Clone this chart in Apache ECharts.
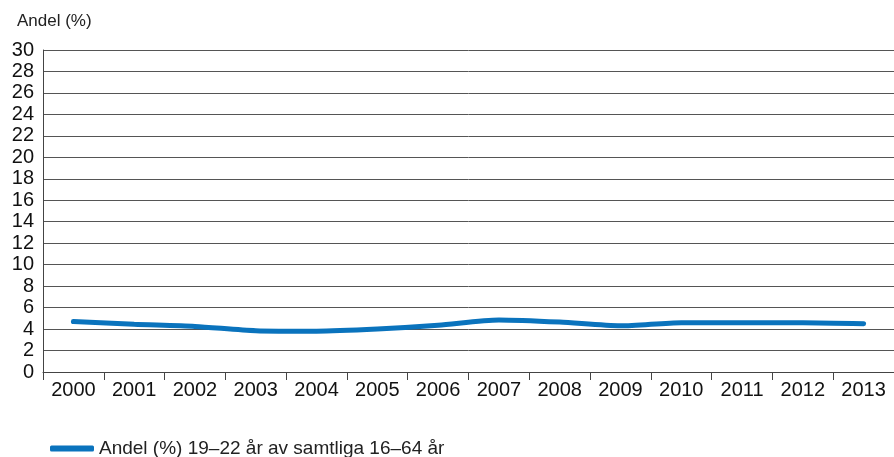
<!DOCTYPE html>
<html>
<head>
<meta charset="utf-8">
<script src="https://cdn.jsdelivr.net/npm/echarts@6/dist/echarts.min.js"></script>
<style>
html, body { margin: 0; padding: 0; background: #fff; }
#chart { width: 894px; height: 457px; }
</style>
</head>
<body>
<div id="chart"></div>
<script>
let years = ['2000', '2001', '2002', '2003', '2004', '2005', '2006', '2007', '2008', '2009', '2010', '2011', '2012', '2013'];
let share = [4.7, 4.45, 4.25, 3.85, 3.8, 4.0, 4.35, 4.85, 4.65, 4.3, 4.6, 4.6, 4.6, 4.5];
let seriesName = 'Andel (%) 19\u201322 år av samtliga 16\u201364 år';

let ShareChart = echarts.init(document.getElementById('chart'));

let share_chart = {
    animation: false,
    textStyle: { fontFamily: 'Liberation Sans, Arial, sans-serif' },
    title: {
        text: 'Andel (%)',
        left: 12,
        top: 8,
        textStyle: { fontSize: 17, fontWeight: 'normal', color: '#222' }
    },
    legend: {
        show: true,
        data: [seriesName],
        left: 45,
        top: 434,
        itemWidth: 44,
        itemHeight: 6,
        itemGap: 10,
        icon: 'roundRect',
        textStyle: { fontSize: 19, color: '#222' }
    },
    grid: { left: 43, right: 0, top: 50, bottom: 85, containLabel: false },
    xAxis: {
        type: 'category',
        data: years,
        boundaryGap: true,
        axisLine: { lineStyle: { color: '#444', width: 1 } },
        axisTick: { show: true, length: 8, lineStyle: { color: '#444' } },
        axisLabel: { fontSize: 20, color: '#111', margin: 8 }
    },
    yAxis: {
        type: 'value',
        min: 0,
        max: 30,
        interval: 2,
        axisLine: { show: true, lineStyle: { color: '#444', width: 1 } },
        axisTick: { show: false },
        axisLabel: { fontSize: 20, color: '#111', margin: 9 },
        splitLine: { lineStyle: { color: '#555', width: 1 } }
    },
    series: [{
        name: seriesName,
        type: 'line',
        data: share,
        smooth: 0.25,
        symbol: 'none',
        lineStyle: { color: '#0a73bd', width: 5, cap: 'round' },
        itemStyle: { color: '#0a73bd' }
    }]
};

ShareChart.setOption(share_chart);
</script>
</body>
</html>
